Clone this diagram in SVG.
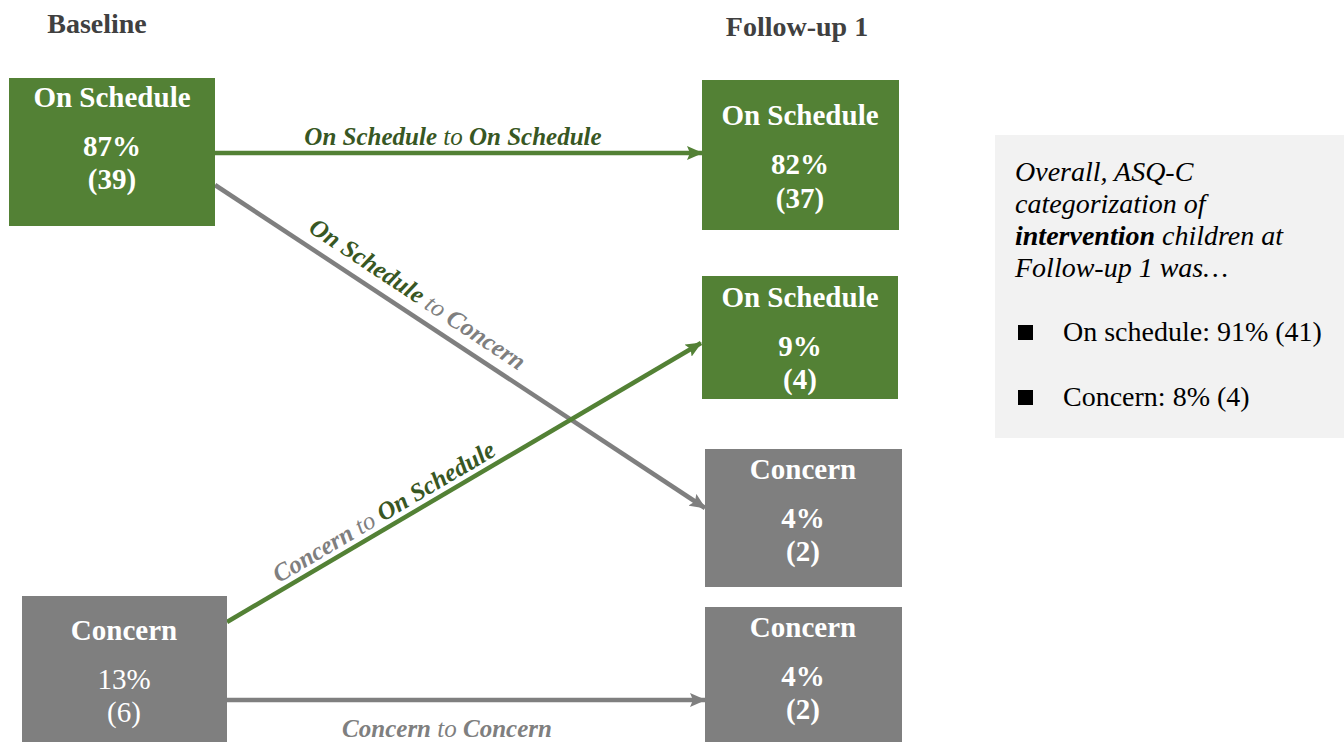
<svg xmlns="http://www.w3.org/2000/svg" width="1344" height="742" viewBox="0 0 1344 742">
<style>
text{font-family:"Liberation Serif","Times New Roman",serif}
.hdr{font-size:28px;font-weight:bold;fill:#404040}
.nt{font-size:29px;font-weight:bold;fill:#fff;text-anchor:middle}
.nn{font-size:29px;fill:#fff;text-anchor:middle}
.green{fill:#538135}
.gray{fill:#7f7f7f}
.lbl{font-size:25px;font-style:italic;font-weight:bold}
.dg{fill:#385723}
.lg{fill:#7f7f7f}
.to{font-weight:normal}
.info{font-size:28px;fill:#000}
</style>
<defs>
<marker id="ag" markerWidth="16" markerHeight="14" refX="15" refY="7" orient="auto" markerUnits="userSpaceOnUse"><path d="M0,0 L16,7 L0,14 L3,7 Z" fill="#538135"/></marker>
<marker id="ay" markerWidth="16" markerHeight="14" refX="15" refY="7" orient="auto" markerUnits="userSpaceOnUse"><path d="M0,0 L16,7 L0,14 L3,7 Z" fill="#7f7f7f"/></marker>
</defs>
<rect width="1344" height="742" fill="#fff"/>
<text class="hdr" x="97" y="33" text-anchor="middle">Baseline</text>
<text class="hdr" x="797" y="36" text-anchor="middle">Follow-up 1</text>

<g id="connectors">
<line x1="215" y1="153" x2="702" y2="153" stroke="#538135" stroke-width="4.5" marker-end="url(#ag)"/>
<line x1="215" y1="185" x2="705" y2="508" stroke="#7f7f7f" stroke-width="4.5" marker-end="url(#ay)"/>
<line x1="227" y1="622" x2="701" y2="343" stroke="#538135" stroke-width="4.5" marker-end="url(#ag)"/>
<line x1="227" y1="700" x2="705" y2="700" stroke="#7f7f7f" stroke-width="4.5" marker-end="url(#ay)"/>
<text class="lbl" x="453" y="145" text-anchor="middle"><tspan class="dg">On Schedule </tspan><tspan class="dg to">to </tspan><tspan class="dg">On Schedule</tspan></text>
<text class="lbl" x="413" y="301" text-anchor="middle" transform="rotate(33.5 413 301)"><tspan class="dg">On Schedule </tspan><tspan class="lg to">to </tspan><tspan class="lg">Concern</tspan></text>
<text class="lbl" x="388" y="519" text-anchor="middle" transform="rotate(-30.5 388 519)"><tspan class="lg">Concern </tspan><tspan class="lg to">to </tspan><tspan class="dg">On Schedule</tspan></text>
<text class="lbl" x="447" y="737" text-anchor="middle"><tspan class="lg">Concern </tspan><tspan class="lg to">to </tspan><tspan class="lg">Concern</tspan></text>
</g>

<g id="base-onschedule">
<rect class="green" x="9" y="78" width="206" height="148"/>
<text class="nt" x="112" y="107">On Schedule</text>
<text class="nt" x="112" y="156">87%</text>
<text class="nt" x="112" y="189">(39)</text>
</g>
<g id="base-concern">
<rect class="gray" x="22" y="596" width="205" height="146"/>
<text class="nt" x="124" y="640">Concern</text>
<text class="nn" x="124" y="689">13%</text>
<text class="nn" x="124" y="722">(6)</text>
</g>
<g id="fu-onschedule-1">
<rect class="green" x="702" y="80" width="197" height="150"/>
<text class="nt" x="800" y="125">On Schedule</text>
<text class="nt" x="800" y="174">82%</text>
<text class="nt" x="800" y="208">(37)</text>
</g>
<g id="fu-onschedule-2">
<rect class="green" x="702" y="276" width="196" height="123"/>
<text class="nt" x="800" y="307">On Schedule</text>
<text class="nt" x="800" y="356">9%</text>
<text class="nt" x="800" y="389">(4)</text>
</g>
<g id="fu-concern-1">
<rect class="gray" x="705" y="449" width="197" height="138"/>
<text class="nt" x="803" y="479">Concern</text>
<text class="nt" x="803" y="528">4%</text>
<text class="nt" x="803" y="561">(2)</text>
</g>
<g id="fu-concern-2">
<rect class="gray" x="705" y="607" width="197" height="135"/>
<text class="nt" x="803" y="637">Concern</text>
<text class="nt" x="803" y="686">4%</text>
<text class="nt" x="803" y="719">(2)</text>
</g>

<g id="info">
<rect x="995" y="135" width="349" height="303" fill="#f2f2f2"/>
<text class="info" font-style="italic" x="1015" y="181">Overall, ASQ-C</text>
<text class="info" font-style="italic" x="1015" y="213">categorization of</text>
<text class="info" font-style="italic" x="1015" y="245"><tspan font-weight="bold">intervention</tspan> children at</text>
<text class="info" font-style="italic" x="1015" y="277">Follow-up 1 was…</text>
<rect x="1018" y="325" width="15" height="15" fill="#000"/>
<text class="info" x="1063" y="341">On schedule: 91% (41)</text>
<rect x="1018" y="390" width="15" height="15" fill="#000"/>
<text class="info" x="1063" y="406">Concern: 8% (4)</text>
</g>
</svg>
